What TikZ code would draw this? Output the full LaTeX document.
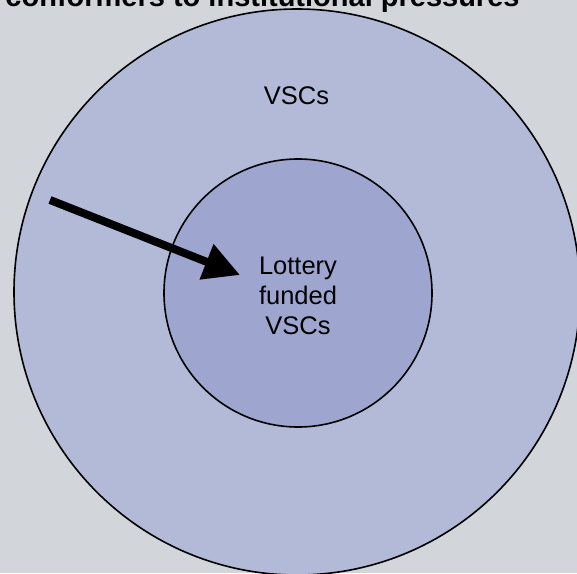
\documentclass[tikz,border=0pt]{standalone}
\usepackage{fontspec}
\setmainfont{Liberation Sans}
\usetikzlibrary{arrows.meta}
\definecolor{paper}{RGB}{210,213,218}
\definecolor{outerfill}{RGB}{178,186,216}
\definecolor{innerfill}{RGB}{158,166,208}
\tikzset{
  ring/.style={draw=black, line width=1.6pt},
  label/.style={inner sep=0pt, align=center, font=\fontsize{25.5}{30}\selectfont},
  heading/.style={inner sep=0pt, font=\bfseries\fontsize{29}{34}\selectfont},
  pointer/.style={line width=8pt, -{Triangle[length=36pt,width=36pt]}}
}
\begin{document}
\begin{tikzpicture}[x=1pt, y=-1pt]
  \useasboundingbox (0,0) rectangle (577,573);
  \fill[paper] (0,0) rectangle (577,573);
  \begin{scope}
    \clip (0,0) rectangle (577,573);
    % outer and inner sets
    \draw[ring, fill=outerfill] (297,292) circle[radius=283];
    \draw[ring, fill=innerfill] (298,293) circle[radius=134];
    % heading, partly cut off at the top edge
    \node[heading, anchor=base] (title) at (262.5,6) {conformers to institutional pressures};
  \end{scope}
  \node[label, anchor=base] (all) at (296.5,104) {VSCs};
  \node[label, anchor=center] (lottery) at (298,296) {Lottery\\funded\\VSCs};
  \coordinate (tail) at (50,200);
  \coordinate (tip) at (240,275);
  \draw[pointer] (tail) -- (tip);
\end{tikzpicture}
\end{document}
